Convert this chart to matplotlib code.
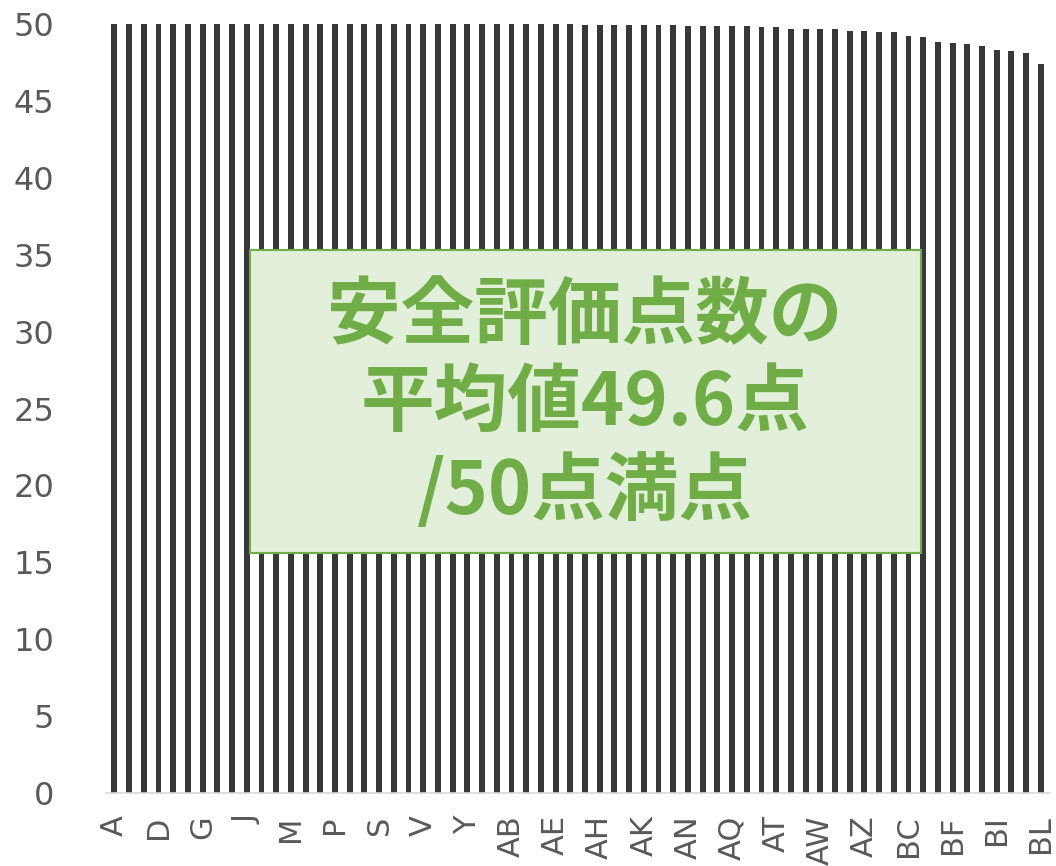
import matplotlib.pyplot as plt
from matplotlib.patches import Rectangle

# categorias (columnas A..BL)
categorias = ['A', 'B', 'C', 'D', 'E', 'F', 'G', 'H', 'I', 'J', 'K', 'L', 'M',
              'N', 'O', 'P', 'Q', 'R', 'S', 'T', 'U', 'V', 'W', 'X', 'Y', 'Z',
              'AA', 'AB', 'AC', 'AD', 'AE', 'AF', 'AG', 'AH', 'AI', 'AJ', 'AK',
              'AL', 'AM', 'AN', 'AO', 'AP', 'AQ', 'AR', 'AS', 'AT', 'AU', 'AV',
              'AW', 'AX', 'AY', 'AZ', 'BA', 'BB', 'BC', 'BD', 'BE', 'BF', 'BG',
              'BH', 'BI', 'BJ', 'BK', 'BL']

# puntajes
puntajes = [50.0, 50.0, 50.0, 50.0, 50.0, 50.0, 50.0, 50.0, 50.0, 50.0,
            50.0, 50.0, 50.0, 50.0, 50.0, 50.0, 50.0, 50.0, 50.0, 50.0,
            50.0, 50.0, 50.0, 50.0, 50.0, 50.0, 50.0, 50.0, 50.0, 49.99,
            49.99, 49.99, 49.98, 49.98, 49.98, 49.93, 49.93, 49.93, 49.92,
            49.89, 49.87, 49.87, 49.87, 49.87, 49.82, 49.79, 49.72, 49.69,
            49.67, 49.66, 49.55, 49.55, 49.48, 49.48, 49.24, 49.14, 48.85,
            48.76, 48.70, 48.59, 48.31, 48.24, 48.13, 47.44]

y_ticks = [0, 5, 10, 15, 20, 25, 30, 35, 40, 45, 50]
texto_caja = '安全評価点数の\n平均値49.6点\n/50点満点'

gris = '#595959'
verde = '#70AD47'

fig = plt.figure(figsize=(10.56, 8.66), dpi=100)
ax = fig.add_axes([0.100, 0.0843, 0.894, 0.8877])

x = list(range(len(categorias)))
ax.bar(x, puntajes, width=0.40, color='#383838')

ax.set_xlim(-0.6, len(categorias) - 0.4)
ax.set_ylim(0, 50)
ax.set_yticks(y_ticks)
ax.set_yticklabels([str(v) for v in y_ticks], fontsize=23, color=gris)
ax.set_xticks(x[::3])
ax.set_xticklabels(categorias[::3], rotation=90, fontsize=22, color=gris)
ax.tick_params(axis='y', length=0, pad=37)
ax.tick_params(axis='x', length=0, pad=16)

for lado in ['top', 'right', 'left']:
    ax.spines[lado].set_visible(False)
ax.spines['bottom'].set_color('#d9d9d9')
ax.spines['bottom'].set_linewidth(1.2)

# caja con el promedio
caja = Rectangle((0.1525, 0.312), 0.711, 0.394, transform=ax.transAxes,
                 facecolor='#E2EFDA', edgecolor=verde, linewidth=1.5, zorder=3)
ax.add_patch(caja)
ax.text(0.1525 + 0.711 / 2, 0.312 + 0.394 / 2 - 0.004, texto_caja,
        transform=ax.transAxes, ha='center', va='center', fontsize=53,
        fontweight='bold', color=verde, linespacing=1.22,
        family=['Noto Sans CJK JP', 'DejaVu Sans'], zorder=4)

fig.savefig('out.png', dpi=100)
